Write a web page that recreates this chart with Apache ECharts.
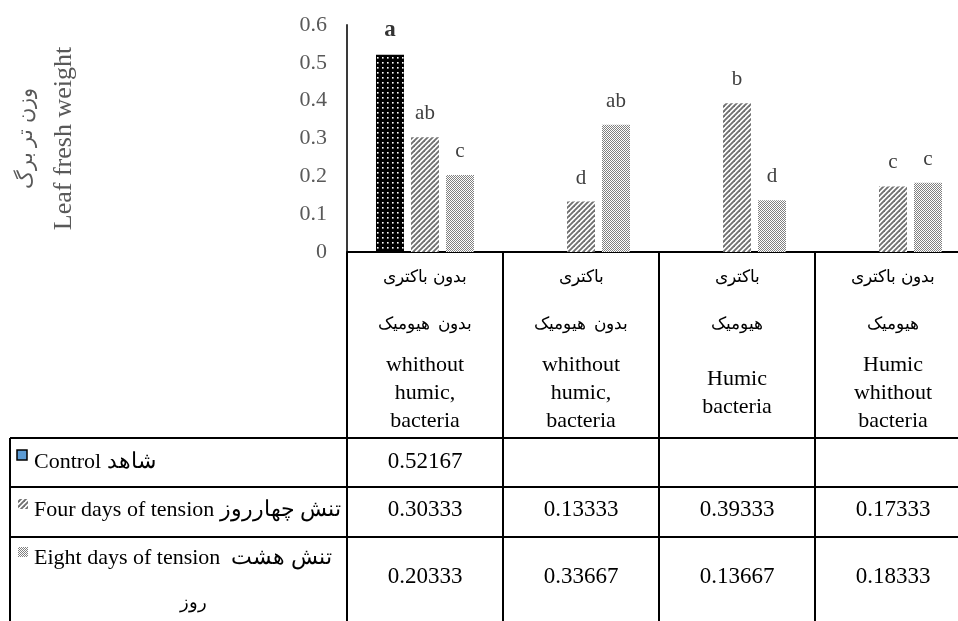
<!DOCTYPE html>
<html>
<head>
<meta charset="utf-8">
<script src="https://cdn.jsdelivr.net/npm/echarts@6/dist/echarts.min.js"></script>
<style>
html, body { margin: 0; padding: 0; background: #fff; }
#chart { width: 958px; height: 621px; }
</style>
</head>
<body>
<div id="chart"></div>
<script>
// data
var categories = ['g1', 'g2', 'g3', 'g4'];
var catFa = [
    ['بدون باکتری', 'بدون  هیومیک'],
    ['باکتری', 'بدون  هیومیک'],
    ['باکتری', 'هیومیک'],
    ['بدون باکتری', 'هیومیک']
];
var catEn = ['whithout\nhumic,\nbacteria', 'whithout\nhumic,\nbacteria', 'Humic\nbacteria', 'Humic\nwhithout\nbacteria'];
var seriesNames = ['Control شاهد', 'Four days of tension تنش چهارروز', 'Eight days of tension  تنش هشت'];
var seriesNameExtra = ['', '', 'روز'];
var control = [0.52167, null, null, null];
var fourDays = [0.30333, 0.13333, 0.39333, 0.17333];
var eightDays = [0.20333, 0.33667, 0.13667, 0.18333];
var lettersControl = ['a', '', '', ''];
var lettersFour = ['ab', 'd', 'b', 'c'];
var lettersEight = ['c', 'ab', 'd', 'c'];
var yMin = 0, yMax = 0.6, yStep = 0.1;
var yTitleFa = 'وزن تر برگ';
var yTitleEn = 'Leaf fresh weight';

var serif = '"Liberation Serif", "Times New Roman", serif';

/* fill patterns */
function makePattern(kind) {
    var c = document.createElement('canvas'), ctx;
    if (kind === 'dots') {
        c.width = 5; c.height = 5;
        ctx = c.getContext('2d');
        ctx.fillStyle = '#000';
        ctx.fillRect(0, 0, 5, 5);
        ctx.fillStyle = '#fff';
        ctx.fillRect(2, 2, 1.6, 1.6);
    } else if (kind === 'stripes') {
        c.width = 5; c.height = 5;
        ctx = c.getContext('2d');
        ctx.fillStyle = '#fff';
        ctx.fillRect(0, 0, 5, 5);
        ctx.strokeStyle = '#707070';
        ctx.lineWidth = 1.9;
        [[0, 5, 5, 0], [-2.5, 2.5, 2.5, -2.5], [2.5, 7.5, 7.5, 2.5]].forEach(function (l) {
            ctx.beginPath();
            ctx.moveTo(l[0], l[1]);
            ctx.lineTo(l[2], l[3]);
            ctx.stroke();
        });
    } else {
        c.width = 2; c.height = 2;
        ctx = c.getContext('2d');
        ctx.fillStyle = '#fff';
        ctx.fillRect(0, 0, 2, 2);
        ctx.fillStyle = '#808080';
        ctx.fillRect(0, 0, 1, 1);
        ctx.fillRect(1, 1, 1, 1);
    }
    return c;
}
var patDots = makePattern('dots');
var patStripes = makePattern('stripes');
var patChecker = makePattern('checker');

function fmtVal(arr) {
    return function (v, i) {
        return arr[i] == null ? '' : arr[i].toFixed(5);
    };
}

function tableAxis(formatter, margin, size, lh) {
    return {
        type: 'category',
        gridIndex: 0,
        position: 'bottom',
        data: categories,
        axisLine: { show: false },
        axisTick: { show: false },
        splitLine: { show: false },
        axisLabel: {
            interval: 0,
            margin: margin,
            verticalAlign: 'middle',
            fontFamily: serif,
            fontSize: size,
            lineHeight: lh,
            color: '#000',
            formatter: formatter
        }
    };
}

function barSeries(name, data, pat, letters, bold) {
    return {
        name: name,
        type: 'bar',
        data: data,
        barWidth: 28,
        barGap: '25%',
        itemStyle: { color: { image: pat, repeat: 'repeat' } },
        label: {
            show: true,
            position: 'top',
            distance: 13,
            fontFamily: serif,
            fontSize: bold ? 23 : 21,
            fontWeight: bold ? 'bold' : 'normal',
            color: bold ? '#333' : '#404040',
            formatter: function (p) { return letters[p.dataIndex]; }
        }
    };
}

var chart = echarts.init(document.getElementById('chart'));

var rowY = [438, 487, 537];
var graphics = [];
rowY.forEach(function (y) {
    graphics.push({ type: 'line', shape: { x1: 10, y1: y, x2: 958, y2: y }, style: { stroke: '#000', lineWidth: 2 } });
});
graphics.push({ type: 'line', shape: { x1: 10, y1: 438, x2: 10, y2: 621 }, style: { stroke: '#000', lineWidth: 2 } });
graphics.push({ type: 'rect', shape: { x: 17, y: 450, width: 10, height: 10 }, style: { fill: '#5b9bd5', stroke: '#000', lineWidth: 1.5 } });
graphics.push({ type: 'rect', shape: { x: 18, y: 499, width: 10, height: 10 }, style: { fill: { image: patStripes, repeat: 'repeat' } } });
graphics.push({ type: 'rect', shape: { x: 18, y: 547, width: 10, height: 10 }, style: { fill: { image: patChecker, repeat: 'repeat' } } });
var textY = [462, 510, 558];
seriesNames.forEach(function (n, i) {
    graphics.push({
        type: 'text', x: 34, y: textY[i],
        style: { text: n, fontFamily: serif, fontSize: 22, fill: '#000', verticalAlign: 'middle', align: 'left' }
    });
});
graphics.push({
    type: 'text', x: 193, y: 603,
    style: { text: seriesNameExtra[2], fontFamily: serif, fontSize: 18, fill: '#000', verticalAlign: 'middle', align: 'center' }
});

var option = {
    animation: false,
    grid: { left: 347, top: 25, width: 624, height: 227, outerBoundsMode: 'none', containLabel: false },
    xAxis: [
        {
            type: 'category',
            data: categories,
            axisLine: { show: true, lineStyle: { color: '#000', width: 2 } },
            axisTick: { show: true, interval: 0, length: 369, lineStyle: { color: '#000', width: 2 } },
            splitLine: { show: false },
            axisLabel: {
                interval: 0,
                margin: 49,
                verticalAlign: 'middle',
                fontFamily: serif,
                fontSize: 17,
                lineHeight: 47,
                color: '#000',
                formatter: function (v, i) { return catFa[i].join('\n'); }
            }
        },
        tableAxis(function (v, i) { return catEn[i]; }, 141, 22, 28),
        tableAxis(fmtVal(control), 210, 23, 26),
        tableAxis(fmtVal(fourDays), 258, 23, 26),
        tableAxis(fmtVal(eightDays), 325, 23, 26)
    ],
    yAxis: {
        type: 'value',
        min: yMin,
        max: yMax,
        interval: yStep,
        name: '{fa|' + yTitleFa + '}\n{en|' + yTitleEn + '}',
        nameLocation: 'middle',
        nameRotate: 90,
        nameGap: 264,
        nameTextStyle: {
            rich: {
                fa: { fontFamily: serif, fontSize: 21, color: '#595959', lineHeight: 38 },
                en: { fontFamily: serif, fontSize: 26, color: '#595959', lineHeight: 38 }
            }
        },
        axisLine: { show: true, lineStyle: { color: '#3a3a3a', width: 2 } },
        axisTick: { show: false },
        splitLine: { show: false },
        axisLabel: {
            margin: 20,
            fontFamily: serif,
            fontSize: 22,
            color: '#595959'
        }
    },
    series: [
        barSeries(seriesNames[0], control, patDots, lettersControl, true),
        barSeries(seriesNames[1], fourDays, patStripes, lettersFour, false),
        barSeries(seriesNames[2], eightDays, patChecker, lettersEight, false)
    ],
    graphic: graphics
};
chart.setOption(option);
</script>
</body>
</html>
